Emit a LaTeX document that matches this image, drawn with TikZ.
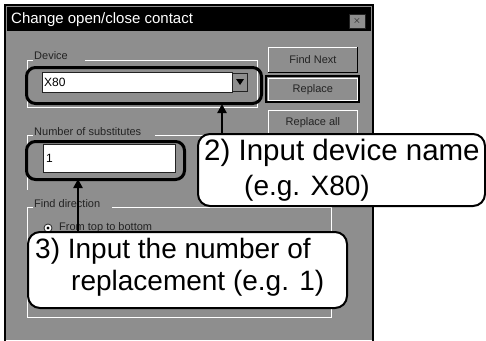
\documentclass[tikz,border=0pt]{standalone}
\usepackage{fontspec}
\setmainfont{Liberation Sans}
\usetikzlibrary{arrows.meta}
\definecolor{dlg}{RGB}{142,142,142}
\definecolor{dlgtext}{RGB}{35,35,35}
\tikzset{
  callout/.style={draw=black, line width=2pt, fill=white, rounded corners=12pt},
  calltext/.style={font=\fontsize{28}{30}\selectfont, anchor=base west, inner sep=0pt},
  hilite/.style={draw=black, line width=3pt, rounded corners=9pt},
  field/.style={fill=white, draw=dlgtext, line width=0.8pt},
  grp/.style={draw=white, line width=0.8pt},
  lbl/.style={font=\fontsize{11}{12}\selectfont, text=dlgtext, fill=dlg, inner sep=1pt, anchor=west},
  btn/.style={draw=white, fill=dlg, line width=0.8pt, font=\fontsize{11}{12}\selectfont, text=dlgtext},
  pointer/.style={line width=2.5pt, -{Triangle[length=9pt,width=9pt]}}
}
\begin{document}
\begin{tikzpicture}[x=1pt, y=-1pt]
\useasboundingbox (0,0) rectangle (486,340);
\fill[white] (0,0) rectangle (486,340);
% window
\fill[dlg] (5,5) rectangle (373,340);
\draw[black, line width=2pt] (5,345) -- (5,5) -- (373,5) -- (373,345);
% title bar
\fill[black] (7,7) rectangle (371,31);
\node[anchor=west, text=white, font=\fontsize{15}{16}\selectfont, inner sep=0pt] (title) at (11,20) {Change open/close contact};
\node[draw=dlgtext, fill=dlg, minimum width=16pt, minimum height=14pt, inner sep=0pt, font=\fontsize{10}{10}\selectfont] (close) at (357,21) {$\times$};
% device group
\draw[grp] (33,60) -- (27,60) -- (27,107) -- (257,107) -- (257,60) -- (85,60);
\node[lbl] (devlbl) at (33,56) {Device};
\node[field, minimum width=190pt, minimum height=20pt, inner sep=0pt, anchor=north west] (devfield) at (42,72) {};
\node[anchor=west, font=\fontsize{12}{12}\selectfont, inner sep=0pt] (x80) at (44,82) {X80};
\node[draw=dlgtext, fill=dlg, minimum width=15pt, minimum height=18pt, inner sep=0pt] (drop) at (240,82) {};
\fill[black] (236,79) -- (244,79) -- (240,85) -- cycle;
\node[hilite, minimum width=235pt, minimum height=36pt, anchor=north west, inner sep=0pt] (devhl) at (25,66) {};
% number group
\draw[grp] (33,135) -- (27,135) -- (27,190);
\draw[grp] (155,135) -- (257,135);
\node[lbl] (numlbl) at (33,132) {Number of substitutes};
\node[field, minimum width=132pt, minimum height=28pt, inner sep=0pt, anchor=north west] (numfield) at (43,144) {};
\node[anchor=west, font=\fontsize{12}{12}\selectfont, inner sep=0pt] (one) at (46,158) {1};
\node[hilite, minimum width=158pt, minimum height=38pt, anchor=north west, inner sep=0pt] (numhl) at (25,140) {};
% buttons
\node[btn, minimum width=89pt, minimum height=25pt, anchor=north west, inner sep=0pt] (find) at (268,47) {Find Next};
\draw[black, line width=1pt] (find.north east) -- (find.south east) -- (find.south west);
\node[btn, minimum width=89pt, minimum height=22pt, anchor=north west, inner sep=0pt] (repl) at (268,78) {Replace};
\draw[black, line width=1.5pt] (266,76) rectangle (359,102);
\node[btn, minimum width=89pt, minimum height=25pt, anchor=north west, inner sep=0pt] (replall) at (268,110) {Replace all};
% find direction group
\draw[grp] (33,207) -- (27,207) -- (27,317) -- (331,317) -- (331,207) -- (112,207);
\node[lbl] (fdlbl) at (33,204) {Find direction};
\draw[dlgtext, fill=white, line width=0.8pt] (48,228) circle (4pt);
\fill[black] (48,228) circle (1.6pt);
\node[lbl] (fromtop) at (58,228) {From top to bottom};
% callout 2
\node[callout, minimum width=287pt, minimum height=72pt, anchor=north west, inner sep=0pt] (c2) at (197,133) {};
\node[calltext, font=\fontsize{29.5}{30}\selectfont] (c2a) at (204,160) {2) Input device name};
\node[calltext] (c2b) at (244,195) {(e.g. X80)};
% callout 3
\node[callout, minimum width=319pt, minimum height=76pt, anchor=north west, inner sep=0pt] (c3) at (27,231) {};
\node[calltext] (c3a) at (35,258) {3) Input the number of};
\node[calltext] (c3b) at (71,290) {replacement (e.g. 1)};
% pointers
\coordinate (p2) at (222,104);
\coordinate (p2s) at (222,133);
\draw[pointer] (p2s) -- (p2);
\coordinate (p3) at (78,179);
\coordinate (p3s) at (78,231);
\draw[pointer] (p3s) -- (p3);
\end{tikzpicture}
\end{document}
